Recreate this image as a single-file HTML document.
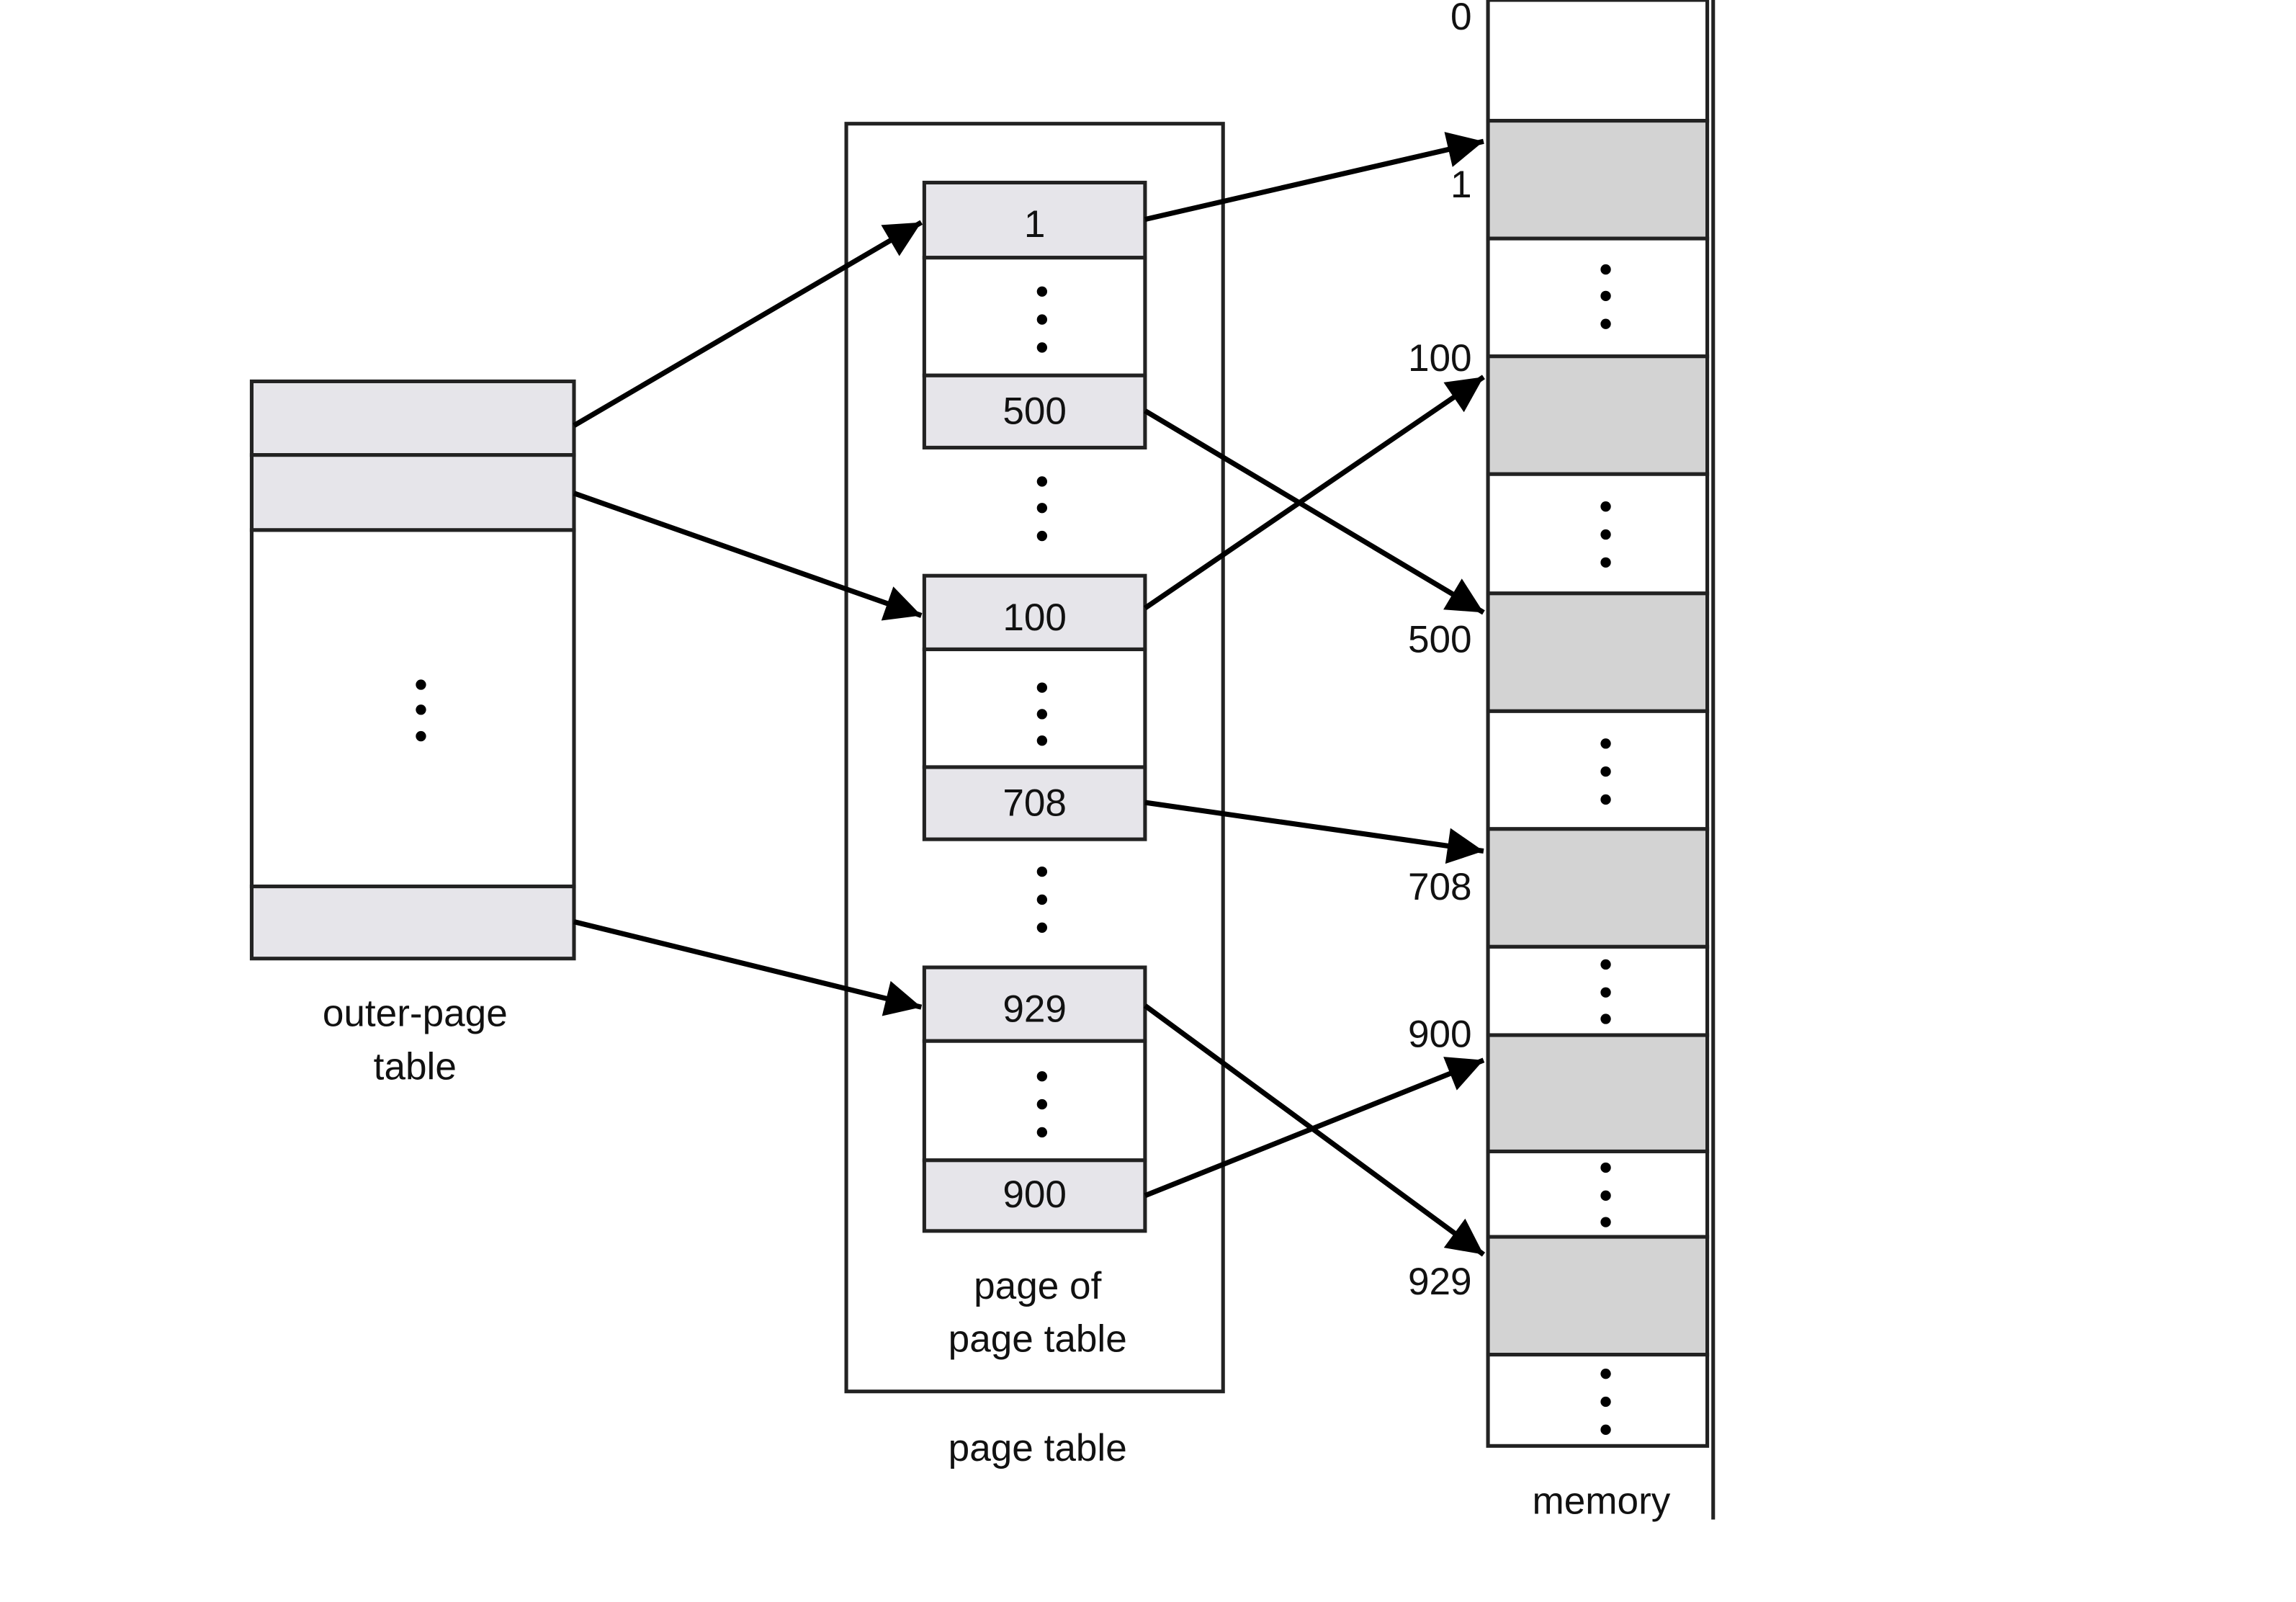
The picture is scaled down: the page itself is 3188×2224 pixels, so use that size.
<!DOCTYPE html>
<html><head><style>html,body{margin:0;padding:0;background:#fff}svg{display:block}</style></head><body>
<svg width="3188" height="2224" viewBox="0 0 1560 1088" preserveAspectRatio="none" xmlns="http://www.w3.org/2000/svg" font-family="Liberation Sans, Arial, sans-serif" font-size="26">
<defs><marker id="a" viewBox="0 0 10 10" refX="10" refY="5" markerWidth="8" markerHeight="7" markerUnits="strokeWidth" orient="auto"><path d="M0,0L10,5L0,10z" fill="#000"/></marker></defs>
<g stroke="#222" stroke-width="2.5">
<rect x="171" y="259" width="219" height="50" fill="#e6e5ea"/>
<rect x="171" y="309" width="219" height="51" fill="#e6e5ea"/>
<rect x="171" y="360" width="219" height="242" fill="#fff"/>
<rect x="171" y="602" width="219" height="49" fill="#e6e5ea"/>
<rect x="575" y="84" width="256" height="861" fill="none"/>
<rect x="628" y="124" width="150" height="51" fill="#e6e5ea"/>
<rect x="628" y="175" width="150" height="80" fill="#fff"/>
<rect x="628" y="255" width="150" height="49" fill="#e6e5ea"/>
<rect x="628" y="391" width="150" height="50" fill="#e6e5ea"/>
<rect x="628" y="441" width="150" height="80" fill="#fff"/>
<rect x="628" y="521" width="150" height="49" fill="#e6e5ea"/>
<rect x="628" y="657" width="150" height="50" fill="#e6e5ea"/>
<rect x="628" y="707" width="150" height="81" fill="#fff"/>
<rect x="628" y="788" width="150" height="48" fill="#e6e5ea"/>
<rect x="1011" y="0" width="149" height="82" fill="#fff"/>
<rect x="1011" y="82" width="149" height="80" fill="#d3d3d3"/>
<rect x="1011" y="162" width="149" height="80" fill="#fff"/>
<rect x="1011" y="242" width="149" height="80" fill="#d3d3d3"/>
<rect x="1011" y="322" width="149" height="81" fill="#fff"/>
<rect x="1011" y="403" width="149" height="80" fill="#d3d3d3"/>
<rect x="1011" y="483" width="149" height="80" fill="#fff"/>
<rect x="1011" y="563" width="149" height="80" fill="#d3d3d3"/>
<rect x="1011" y="643" width="149" height="60" fill="#fff"/>
<rect x="1011" y="703" width="149" height="79" fill="#d3d3d3"/>
<rect x="1011" y="782" width="149" height="58" fill="#fff"/>
<rect x="1011" y="840" width="149" height="80" fill="#d3d3d3"/>
<rect x="1011" y="920" width="149" height="62" fill="#fff"/>
<line x1="1164" y1="0" x2="1164" y2="1032"/>
</g>
<g fill="#000">
<circle cx="286" cy="465" r="3.5"/><circle cx="286" cy="482" r="3.5"/><circle cx="286" cy="500" r="3.5"/>
<circle cx="708" cy="198" r="3.5"/><circle cx="708" cy="217" r="3.5"/><circle cx="708" cy="236" r="3.5"/>
<circle cx="708" cy="327" r="3.5"/><circle cx="708" cy="345" r="3.5"/><circle cx="708" cy="364" r="3.5"/>
<circle cx="708" cy="467" r="3.5"/><circle cx="708" cy="485" r="3.5"/><circle cx="708" cy="503" r="3.5"/>
<circle cx="708" cy="592" r="3.5"/><circle cx="708" cy="611" r="3.5"/><circle cx="708" cy="630" r="3.5"/>
<circle cx="708" cy="731" r="3.5"/><circle cx="708" cy="750" r="3.5"/><circle cx="708" cy="769" r="3.5"/>
<circle cx="1091" cy="183" r="3.5"/><circle cx="1091" cy="201" r="3.5"/><circle cx="1091" cy="220" r="3.5"/>
<circle cx="1091" cy="344" r="3.5"/><circle cx="1091" cy="363" r="3.5"/><circle cx="1091" cy="382" r="3.5"/>
<circle cx="1091" cy="505" r="3.5"/><circle cx="1091" cy="524" r="3.5"/><circle cx="1091" cy="543" r="3.5"/>
<circle cx="1091" cy="655" r="3.5"/><circle cx="1091" cy="674" r="3.5"/><circle cx="1091" cy="692" r="3.5"/>
<circle cx="1091" cy="793" r="3.5"/><circle cx="1091" cy="812" r="3.5"/><circle cx="1091" cy="830" r="3.5"/>
<circle cx="1091" cy="933" r="3.5"/><circle cx="1091" cy="952" r="3.5"/><circle cx="1091" cy="971" r="3.5"/>
</g>
<g stroke="#000" stroke-width="3.5" marker-end="url(#a)">
<line x1="390" y1="289" x2="626" y2="151"/>
<line x1="390" y1="335" x2="626" y2="418"/>
<line x1="390" y1="626" x2="626" y2="684"/>
<line x1="778" y1="149" x2="1008" y2="96"/>
<line x1="778" y1="279" x2="1008" y2="416"/>
<line x1="778" y1="413" x2="1008" y2="256"/>
<line x1="778" y1="545" x2="1008" y2="578"/>
<line x1="778" y1="683" x2="1008" y2="852"/>
<line x1="778" y1="812" x2="1008" y2="720"/>
</g>
<g fill="#111" text-anchor="middle">
<text x="703" y="161">1</text><text x="703" y="288">500</text>
<text x="703" y="428">100</text><text x="703" y="554">708</text>
<text x="703" y="694">929</text><text x="703" y="820">900</text>
<text x="282" y="697">outer-page</text><text x="282" y="733">table</text>
<text x="705" y="882">page of</text><text x="705" y="918">page table</text>
<text x="705" y="992">page table</text>
<text x="1088" y="1028">memory</text>
</g>
<g fill="#111" text-anchor="end">
<text x="1000" y="20">0</text><text x="1000" y="134">1</text><text x="1000" y="252">100</text>
<text x="1000" y="443">500</text><text x="1000" y="611">708</text><text x="1000" y="711">900</text><text x="1000" y="879">929</text>
</g>
</svg>
</body></html>
